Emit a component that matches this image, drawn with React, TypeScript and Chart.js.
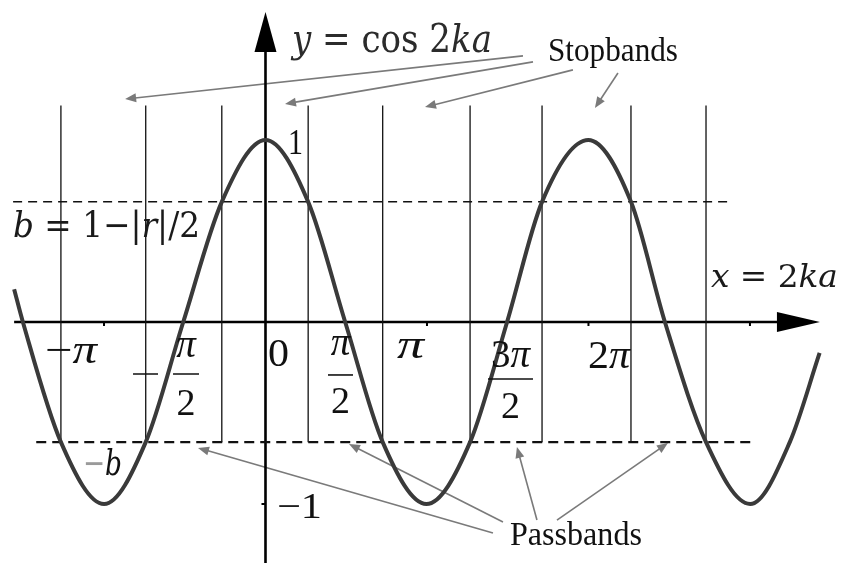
import { useEffect, useRef } from "react";
import { Chart, registerables } from "chart.js";

Chart.register(...registerables);

// Curve y = cos 2ka, read at its extrema, its zeros and its crossings with ±b (x = 2ka in radians)
const curveX = [-4.89, -4.72, -3.98, -3.14, -2.33, -1.6, -0.85, 0, 0.83, 1.55, 2.28, 3.13, 3.98, 4.7, 5.38, 6.28, 7.11, 7.77, 8.57, 9.43, 10.2, 10.78];
const curveY = [0.18, 0, -0.66, -1, -0.66, 0, 0.66, 1, 0.66, 0, -0.66, -1, -0.66, 0, 0.66, 1, 0.66, 0, -0.66, -1, -0.66, -0.17];

// Band level b = 1 − |r|/2 and the band edges where |cos 2ka| = b
const bLevel = 0.66;
const bandEdges = [-3.98, -2.33, -0.85, 0.83, 2.28, 3.98, 5.38, 7.11, 8.57];
const bandEdgeTop = 1.19;
const upperDashX = [-4.91, 9.03];
const lowerDashX = [-4.46, 9.46];

// Axis tick labels
const plainTicks = ["−π", "0", "π", "2π"];
const plainTickX = [-4.289, 0.049, 2.558, 6.273];
const plainTickY = [-0.225, -0.242, -0.198, -0.253];
const plainTickW = [52, 21, 27, 42];

const fracNum = ["π", "π", "3π"];
const fracDen = ["2", "2", "2"];
const fracNeg = [true, false, false];
const fracCx = [-1.546, 1.459, 4.766];
const fracNumY = [-0.192, -0.181, -0.247];
const fracBarY = [-0.286, -0.291, -0.313];
const fracDenY = [-0.511, -0.5, -0.527];
const fracBarW = [26, 25, 45];

// Callout arrows: [fromX, fromY, toX, toY]
const stopbandArrows = [
  [5.009, 1.462, -2.731, 1.225],
  [5.204, 1.429, 0.379, 1.198],
  [5.981, 1.385, 3.103, 1.181],
  [6.857, 1.368, 6.409, 1.176],
];
const passbandArrows = [
  [4.425, -1.159, -1.313, -0.692],
  [4.62, -1.099, 1.624, -0.67],
  [5.281, -1.088, 4.892, -0.687],
  [5.67, -1.088, 7.829, -0.665],
];

const X_MIN = -5.165;
const X_MAX = 11.196;
const Y_MIN = -1.324;
const Y_MAX = 1.769;

const MATH_FONT = '"DejaVu Serif", serif';
const TEXT_FONT = '"Liberation Serif", "Times New Roman", serif';

type Run = { t: string; italic?: boolean; color?: string };

// split a label so that π is set in italics, as in math typesetting
function mathRuns(s: string): Run[] {
  const out: Run[] = [];
  for (const ch of s) out.push({ t: ch, italic: ch === "π" });
  return out;
}

function drawRuns(
  ctx: CanvasRenderingContext2D,
  runs: Run[],
  x: number,
  y: number,
  size: number,
  family: string,
  width: number | null,
  color: string,
  center = false
) {
  const fontOf = (r: Run) => `${r.italic ? "italic " : ""}${size}px ${family}`;
  let total = 0;
  for (const r of runs) {
    ctx.font = fontOf(r);
    total += ctx.measureText(r.t).width;
  }
  const s = width ? width / total : 1;
  ctx.save();
  ctx.translate(center ? x - (total * s) / 2 : x, y);
  ctx.scale(s, 1);
  ctx.textAlign = "left";
  ctx.textBaseline = "alphabetic";
  let cx = 0;
  for (const r of runs) {
    ctx.font = fontOf(r);
    ctx.fillStyle = r.color ?? color;
    ctx.fillText(r.t, cx, 0);
    cx += ctx.measureText(r.t).width;
  }
  ctx.restore();
}

function drawArrow(ctx: CanvasRenderingContext2D, x1: number, y1: number, x2: number, y2: number, head: number, half: number) {
  const a = Math.atan2(y2 - y1, x2 - x1);
  const c = Math.cos(a);
  const s = Math.sin(a);
  ctx.beginPath();
  ctx.moveTo(x1, y1);
  ctx.lineTo(x2 - head * 0.7 * c, y2 - head * 0.7 * s);
  ctx.stroke();
  ctx.beginPath();
  ctx.moveTo(x2, y2);
  ctx.lineTo(x2 - head * c + half * s, y2 - head * s - half * c);
  ctx.lineTo(x2 - head * c - half * s, y2 - head * s + half * c);
  ctx.closePath();
  ctx.fill();
}

const backdropPlugin = {
  id: "axesAndCallouts",
  beforeDatasetsDraw(chart: any) {
    const ctx: CanvasRenderingContext2D = chart.ctx;
    const xs = chart.scales.x;
    const ys = chart.scales.y;
    const px = (v: number) => xs.getPixelForValue(v);
    const py = (v: number) => ys.getPixelForValue(v);
    ctx.save();

    // callout arrows
    ctx.strokeStyle = "#7a7a7a";
    ctx.fillStyle = "#7a7a7a";
    ctx.lineWidth = 1.6;
    for (const a of [...stopbandArrows, ...passbandArrows]) {
      drawArrow(ctx, px(a[0]), py(a[1]), px(a[2]), py(a[3]), 11, 4.5);
    }

    // axes
    ctx.strokeStyle = "#000";
    ctx.fillStyle = "#000";
    ctx.lineWidth = 2.6;
    const x0 = px(0);
    const y0 = py(0);
    const xStart = px(-4.89);
    const xTip = px(10.786);
    const yBottom = chart.chartArea.bottom;
    const yTip = py(1.703);
    ctx.beginPath();
    ctx.moveTo(xStart, y0);
    ctx.lineTo(xTip - 30, y0);
    ctx.moveTo(x0, yBottom);
    ctx.lineTo(x0, yTip + 30);
    ctx.stroke();
    ctx.beginPath();
    ctx.moveTo(xTip, y0);
    ctx.lineTo(xTip - 43, y0 - 10);
    ctx.lineTo(xTip - 43, y0 + 10);
    ctx.closePath();
    ctx.fill();
    ctx.beginPath();
    ctx.moveTo(x0, yTip);
    ctx.lineTo(x0 - 11, yTip + 40);
    ctx.lineTo(x0 + 11, yTip + 40);
    ctx.closePath();
    ctx.fill();

    // small ticks
    ctx.lineWidth = 2;
    ctx.beginPath();
    for (const t of [-Math.PI, Math.PI, 2 * Math.PI, 3 * Math.PI]) {
      ctx.moveTo(px(t), y0);
      ctx.lineTo(px(t), y0 + 4);
    }
    ctx.moveTo(x0, py(-1));
    ctx.lineTo(x0 - 4, py(-1));
    ctx.stroke();
    ctx.restore();
  },
  afterDatasetsDraw(chart: any) {
    const ctx: CanvasRenderingContext2D = chart.ctx;
    const xs = chart.scales.x;
    const ys = chart.scales.y;
    const px = (v: number) => xs.getPixelForValue(v);
    const py = (v: number) => ys.getPixelForValue(v);
    ctx.save();

    // axis tick labels
    plainTicks.forEach((t, i) => {
      drawRuns(ctx, mathRuns(t), px(plainTickX[i]), py(plainTickY[i]), 40, TEXT_FONT, plainTickW[i], "#111");
    });
    fracNum.forEach((n, i) => {
      const cx = px(fracCx[i]);
      const w = fracBarW[i];
      drawRuns(ctx, mathRuns(n), cx, py(fracNumY[i]), 39, TEXT_FONT, null, "#111", true);
      drawRuns(ctx, mathRuns(fracDen[i]), cx, py(fracDenY[i]), 38, TEXT_FONT, null, "#111", true);
      ctx.strokeStyle = "#111";
      ctx.lineWidth = 1.6;
      ctx.beginPath();
      ctx.moveTo(cx - w / 2, py(fracBarY[i]));
      ctx.lineTo(cx + w / 2, py(fracBarY[i]));
      if (fracNeg[i]) {
        ctx.moveTo(cx - w / 2 - 40, py(fracBarY[i]));
        ctx.lineTo(cx - w / 2 - 15, py(fracBarY[i]));
      }
      ctx.stroke();
    });

    // y-axis labels
    drawRuns(ctx, [{ t: "1" }], px(0.438), py(0.923), 36, TEXT_FONT, 15, "#111");
    drawRuns(ctx, [{ t: "−1" }], px(0.224), py(-1.077), 36, TEXT_FONT, 45, "#111");
    drawRuns(ctx, [{ t: "−", color: "#9a9a9a" }, { t: "b", italic: true }], px(-3.55), py(-0.841), 36, MATH_FONT, 39, "#111");

    // equations
    drawRuns(
      ctx,
      [{ t: "y", italic: true }, { t: " = cos 2" }, { t: "ka", italic: true }],
      px(0.515),
      py(1.484),
      40,
      MATH_FONT,
      200,
      "#2b2b2b"
    );
    drawRuns(
      ctx,
      [{ t: "b", italic: true }, { t: " = 1−|" }, { t: "r", italic: true }, { t: "|/2" }],
      px(-4.912),
      py(0.467),
      36,
      MATH_FONT,
      187,
      "#1a1a1a"
    );
    drawRuns(
      ctx,
      [{ t: "x", italic: true }, { t: " = 2" }, { t: "ka", italic: true }],
      px(8.665),
      py(0.192),
      32,
      MATH_FONT,
      127,
      "#1a1a1a"
    );

    // callout captions
    drawRuns(ctx, [{ t: "Stopbands" }], px(5.496), py(1.434), 34, TEXT_FONT, 130, "#111");
    drawRuns(ctx, [{ t: "Passbands" }], px(4.756), py(-1.225), 33, TEXT_FONT, 132, "#111");
    ctx.restore();
  },
};

export default function App() {
  const canvasRef = useRef<HTMLCanvasElement | null>(null);

  useEffect(() => {
    document.body.style.margin = "0";
    const canvas = canvasRef.current;
    if (!canvas) return;

    const curve = curveX.map((x, i) => ({ x, y: curveY[i] }));
    const edgeSets = bandEdges.map((x) => ({
      data: [
        { x, y: bandEdgeTop },
        { x, y: -bLevel },
      ],
      borderColor: "#111",
      borderWidth: 1.3,
      pointRadius: 0,
      tension: 0,
    }));

    const chart = new Chart(canvas, {
      type: "line",
      data: {
        datasets: [
          {
            data: curve,
            borderColor: "#3a3a3a",
            borderWidth: 4,
            pointRadius: 0,
            cubicInterpolationMode: "monotone",
          },
          {
            data: upperDashX.map((x) => ({ x, y: bLevel })),
            borderColor: "#111",
            borderWidth: 1.5,
            borderDash: [9, 6],
            pointRadius: 0,
          },
          {
            data: lowerDashX.map((x) => ({ x, y: -bLevel })),
            borderColor: "#111",
            borderWidth: 2.4,
            borderDash: [10, 6],
            pointRadius: 0,
          },
          ...edgeSets,
        ] as any,
      },
      options: {
        animation: false,
        responsive: false,
        devicePixelRatio: 1,
        layout: { padding: 0 },
        plugins: { legend: { display: false }, tooltip: { enabled: false } },
        events: [],
        scales: {
          x: { type: "linear", min: X_MIN, max: X_MAX, display: false },
          y: { type: "linear", min: Y_MIN, max: Y_MAX, display: false },
        },
      },
      plugins: [backdropPlugin],
    });

    return () => chart.destroy();
  }, []);

  return (
    <div style={{ width: 841, height: 563, background: "#fff" }}>
      <canvas ref={canvasRef} width={841} height={563} style={{ display: "block" }} />
    </div>
  );
}
